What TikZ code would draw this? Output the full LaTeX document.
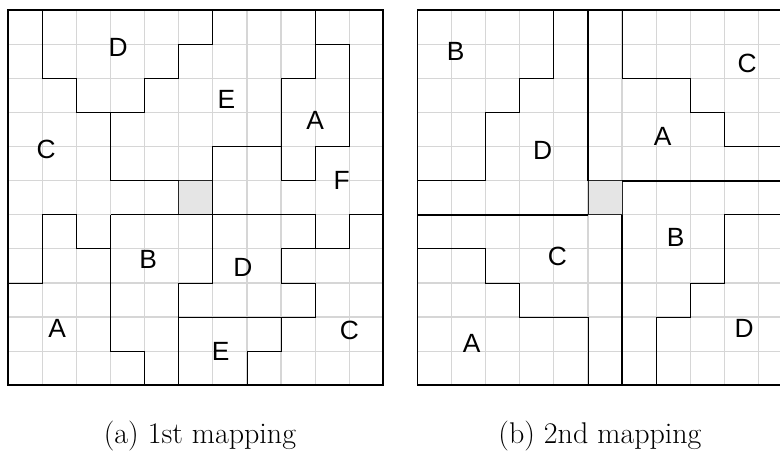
\documentclass[tikz,border=0pt]{standalone}
\usepackage{fontspec}
\newfontfamily\labelfont{Liberation Sans}
\usepackage{tikz}
\definecolor{gridgray}{RGB}{214,214,214}
\definecolor{centergray}{RGB}{229,229,229}

\begin{document}
\begin{tikzpicture}[x=1cm,y=1cm,
  cell grid/.style={gridgray,line width=1pt},
  frame/.style={line width=1.6pt},
  part/.style={line width=0.7pt},
  quad/.style={line width=1.5pt},
  center cell/.style={fill=centergray,draw=black!85,line width=0.7pt},
  region/.style={font=\labelfont\fontsize{22}{26}\selectfont,inner sep=0pt},
  caption/.style={font=\fontsize{25}{30}\selectfont,anchor=base}]
  \useasboundingbox (-0.243,-2.044) rectangle (22.631,11.299);

  % (a) 1st mapping
  \draw[cell grid] (0,0) grid (11,11);
  \filldraw[center cell] (5,5) rectangle (6,6);
  \draw[part] (1,11) -- (1,9) -- (2,9) -- (2,8) -- (4,8) -- (4,9) -- (5,9) -- (5,10) -- (6,10) -- (6,11);
  \draw[part] (3,8) -- (3,6) -- (5,6);
  \draw[part] (8,7) -- (6,7) -- (6,3) -- (5,3) -- (5,0);
  \draw[part] (9,11) -- (9,9) -- (8,9) -- (8,6) -- (9,6) -- (9,7) -- (10,7) -- (10,10) -- (9,10);
  \draw[part] (3,5) -- (9,5) -- (9,4);
  \draw[part] (0,3) -- (1,3) -- (1,5) -- (2,5) -- (2,4) -- (3,4);
  \draw[part] (3,5) -- (3,1) -- (4,1) -- (4,0);
  \draw[part] (5,2) -- (9,2) -- (9,3) -- (8,3) -- (8,4) -- (10,4) -- (10,5) -- (11,5);
  \draw[part] (8,2) -- (8,1) -- (7,1) -- (7,0);
  \draw[frame] (0,0) rectangle (11,11);
  \node[region] (a-D1) at (3.22,9.92) {D};
  \node[region] (a-E1) at (6.40,8.37) {E};
  \node[region] (a-A1) at (9.00,7.78) {A};
  \node[region] (a-C1) at (1.11,6.93) {C};
  \node[region] (a-F)  at (9.78,6.02) {F};
  \node[region] (a-B)  at (4.10,3.70) {B};
  \node[region] (a-D2) at (6.88,3.47) {D};
  \node[region] (a-A2) at (1.43,1.68) {A};
  \node[region] (a-C2) at (10.0,1.62) {C};
  \node[region] (a-E2) at (6.23,0.99) {E};
  \node[caption] (cap-a) at (5.62,-1.72) {(a) 1st mapping};

  % (b) 2nd mapping
  \draw[cell grid] (12,0) grid (23,11);
  \filldraw[center cell] (17,5) rectangle (18,6);
  \draw[part] (16,11) -- (16,9) -- (15,9) -- (15,8) -- (14,8) -- (14,6) -- (12,6);
  \draw[part] (18,11) -- (18,9) -- (20,9) -- (20,8) -- (21,8) -- (21,7) -- (23,7);
  \draw[part] (12,4) -- (14,4) -- (14,3) -- (15,3) -- (15,2) -- (17,2) -- (17,0);
  \draw[part] (23,5) -- (21,5) -- (21,3) -- (20,3) -- (20,2) -- (19,2) -- (19,0);
  \draw[quad] (17,11) -- (17,6);
  \draw[quad] (18,6) -- (23,6);
  \draw[quad] (18,5) -- (18,0);
  \draw[quad] (12,5) -- (17,5);
  \draw[frame] (12,0) rectangle (23,11);
  \node[region] (b-B1) at (13.12,9.78) {B};
  \node[region] (b-D1) at (15.67,6.88) {D};
  \node[region] (b-C1) at (21.67,9.44) {C};
  \node[region] (b-A1) at (19.19,7.31) {A};
  \node[region] (b-C2) at (16.10,3.79) {C};
  \node[region] (b-B2) at (19.57,4.33) {B};
  \node[region] (b-A2) at (13.59,1.23) {A};
  \node[region] (b-D2) at (21.58,1.67) {D};
  \node[caption] (cap-b) at (17.35,-1.72) {(b) 2nd mapping};
\end{tikzpicture}
\end{document}
